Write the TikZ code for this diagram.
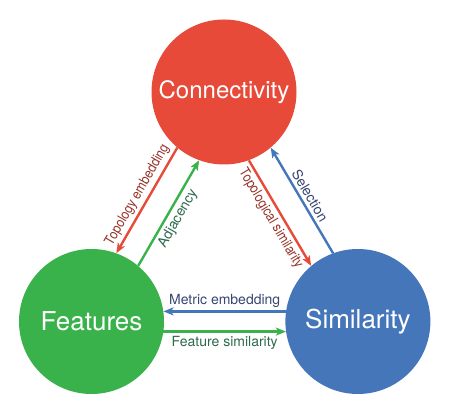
\documentclass[tikz,border=0pt]{standalone}
\usepackage{fontspec}
\setmainfont{TeX Gyre Heros}
\usetikzlibrary{positioning,arrows.meta}
\definecolor{conred}{RGB}{231,74,56}
\definecolor{featgreen}{RGB}{57,178,75}
\definecolor{simblue}{RGB}{70,118,186}
\definecolor{redtext}{RGB}{150,50,40}
\definecolor{greentext}{RGB}{45,105,75}
\definecolor{bluetext}{RGB}{55,70,115}

\begin{document}
\begin{tikzpicture}[x=1pt,y=1pt,
		bignode/.style={circle, minimum size=145pt, inner sep=0pt, text=white, font=\fontsize{26}{30}\selectfont},
		linkarrow/.style={-{Stealth[length=10pt,width=8pt,inset=2.5pt]}, line width=2.4pt},
		linklabel/.style={font=\fontsize{14}{16}\selectfont, inner sep=3pt},
		]
		\useasboundingbox (0,0) rectangle (449,409);
		%Nodes
		\node[bignode, fill=featgreen] (feat)  at (91.5,87.5)      {Features};
		\node[bignode, fill=simblue]   (sim)   [right=121pt of feat] {Similarity};
		\node[bignode, fill=conred, font=\fontsize{24}{28}\selectfont] (con) at (224,317) {Connectivity};
		
		%Lines
		\draw[linkarrow, conred] (con.230) -- node[linklabel, sloped, above, text=redtext] {\scalebox{0.88}[1]{Topology embedding}} (feat.70);
		\draw[linkarrow, featgreen] (feat.50) -- node[linklabel, sloped, below, text=greentext] {Adjacency} (con.250);
		\draw[linkarrow, conred] (con.290) -- node[linklabel, sloped, below, text=redtext] {\scalebox{0.88}[1]{Topological similarity}} (sim.130);
		\draw[linkarrow, simblue] (sim.110) -- node[linklabel, sloped, above, text=bluetext] {Selection} (con.310);
		\draw[linkarrow, simblue] (sim.172) -- node[linklabel, above, text=bluetext] {Metric embedding} (feat.8);
		\draw[linkarrow, featgreen] (feat.352) -- node[linklabel, below, text=greentext] {Feature similarity} (sim.188);
		\end{tikzpicture}
\end{document}
